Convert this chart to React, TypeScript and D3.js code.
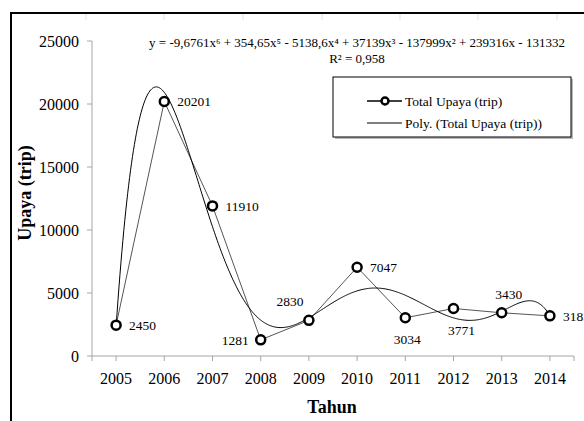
import React from "react";
import * as d3 from "d3";

const years = ["2005","2006","2007","2008","2009","2010","2011","2012","2013","2014"];
const upaya = [2450, 20201, 11910, 1281, 2830, 7047, 3034, 3771, 3430, 3185];
const labelPos = ["right","right","right","left","above","right","below","below","above","right"];
const yTicks = [0, 5000, 10000, 15000, 20000, 25000];
const equation = "y = -9,6761x⁶ + 354,65x⁵ - 5138,6x⁴ + 37139x³ - 137999x² + 239316x - 131332";
const rSquared = "R² = 0,958";
const legendLabels = ["Total Upaya (trip)", "Poly. (Total Upaya (trip))"];

// least squares polynomial fit (degree 6), on scaled x
function polyFit(xs: number[], ys: number[], deg: number) {
  const c = 5.5, s = 4.5;
  const n = deg + 1;
  const A: number[][] = Array.from({ length: n }, () => new Array(n + 1).fill(0));
  xs.forEach((x0, k) => {
    const t = (x0 - c) / s;
    const p: number[] = [];
    for (let i = 0; i < n; i++) p.push(Math.pow(t, i));
    for (let i = 0; i < n; i++) {
      for (let j = 0; j < n; j++) A[i][j] += p[i] * p[j];
      A[i][n] += p[i] * ys[k];
    }
  });
  for (let i = 0; i < n; i++) {
    let m = i;
    for (let r = i + 1; r < n; r++) if (Math.abs(A[r][i]) > Math.abs(A[m][i])) m = r;
    [A[i], A[m]] = [A[m], A[i]];
    for (let r = 0; r < n; r++) {
      if (r === i) continue;
      const f = A[r][i] / A[i][i];
      for (let k = i; k <= n; k++) A[r][k] -= f * A[i][k];
    }
  }
  const coef = A.map((row, i) => row[n] / row[i]);
  return (x0: number) => {
    const t = (x0 - c) / s;
    let v = 0;
    for (let i = n - 1; i >= 0; i--) v = v * t + coef[i];
    return v;
  };
}

export default function App() {
  const W = 584, H = 421;
  const x = d3.scalePoint<string>().domain(years).range([92, 574]).padding(0.5);
  const y = d3.scaleLinear().domain([0, 25000]).range([356, 41]);
  const idx = years.map((_, i) => i + 1);
  const f = polyFit(idx, upaya, 6);
  const step = x.step();
  const xi = (v: number) => (x(years[0]) as number) + (v - 1) * step;
  const trendPts = d3.range(1, 10.0001, 0.02).map((v) => [xi(v), y(f(v))] as [number, number]);
  const line = d3.line();
  const dataPts = upaya.map((v, i) => [x(years[i]) as number, y(v)] as [number, number]);
  const serif = "'Liberation Serif', 'Times New Roman', serif";
  const gridTicks = [86, 164, 243, 322, 400, 478, 557];

  return (
    <svg width={W} height={H} style={{ position: "absolute", left: 0, top: 0, background: "#fff" }} fontFamily={serif}>
      {/* frame */}
      {gridTicks.map((gx) => (
        <line key={gx} x1={gx} x2={gx} y1={14} y2={20} stroke="#e0e0e0" strokeWidth={1} />
      ))}
      <line x1={11} x2={584} y1={13} y2={13} stroke="#000" strokeWidth={2} />
      <line x1={11} x2={11} y1={12} y2={421} stroke="#000" strokeWidth={2} />

      {/* y axis */}
      <line x1={92} x2={92} y1={y(25000)} y2={356} stroke="#a6a6a6" strokeWidth={1} />
      {yTicks.map((t) => (
        <g key={t}>
          <line x1={87} x2={92} y1={y(t)} y2={y(t)} stroke="#a6a6a6" />
          <text x={79} y={y(t)} dy="0.35em" textAnchor="end" fontSize={16}>{t}</text>
        </g>
      ))}
      {/* x axis */}
      <line x1={92} x2={574} y1={356} y2={356} stroke="#a6a6a6" strokeWidth={1} />
      {[92, ...years.map((yr) => x(yr) as number), 574].map((tx, i) => (
        <line key={i} x1={tx} x2={tx} y1={356} y2={361} stroke="#a6a6a6" />
      ))}
      {years.map((yr) => (
        <text key={yr} x={x(yr)} y={378} dy="0.35em" textAnchor="middle" fontSize={16}>{yr}</text>
      ))}
      <text x={332} y={407} dy="0.35em" textAnchor="middle" fontSize={18} fontWeight="bold">Tahun</text>
      <text transform="translate(25,193) rotate(-90)" dy="0.35em" textAnchor="middle" fontSize={18} fontWeight="bold">Upaya (trip)</text>

      {/* data line */}
      <path d={line(dataPts) || ""} fill="none" stroke="#555" strokeWidth={1} />
      {/* trend */}
      <path d={line(trendPts) || ""} fill="none" stroke="#000" strokeWidth={1} />
      {dataPts.map(([px, py], i) => (
        <circle key={i} cx={px} cy={py} r={4.5} fill="#fff" stroke="#000" strokeWidth={2.5} />
      ))}
      {dataPts.map(([px, py], i) => {
        const p = labelPos[i];
        let tx = px + 13, ty = py, anchor = "start";
        if (p === "left") { tx = px - 12; anchor = "end"; }
        if (p === "above") { tx = px + (i === 4 ? 29 - 30 + 0 : 7); ty = py - 19; anchor = "middle"; }
        if (p === "below") { tx = px + (i === 6 ? 2 : 8); ty = py + 22; anchor = "middle"; }
        if (i === 4) { tx = px + 29 - 0; tx = px + 29; tx = 290; }
        return (
          <text key={i} x={tx} y={ty} dy="0.35em" textAnchor={anchor} fontSize={13.5}>{upaya[i]}</text>
        );
      })}

      {/* equation */}
      <text x={357} y={42} dy="0.35em" textAnchor="middle" fontSize={13}>{equation}</text>
      <text x={357} y={58} dy="0.35em" textAnchor="middle" fontSize={13}>{rSquared}</text>

      {/* legend */}
      <rect x={335} y={79} width={238} height={60} fill="#bbb" />
      <rect x={333} y={77} width={238} height={60} fill="#fff" stroke="#000" strokeWidth={1} />
      <line x1={367} x2={402} y1={101} y2={101} stroke="#000" strokeWidth={1.5} />
      <circle cx={385} cy={101} r={3.5} fill="#fff" stroke="#000" strokeWidth={2.5} />
      <text x={405} y={101} dy="0.35em" fontSize={13.5}>{legendLabels[0]}</text>
      <line x1={367} x2={402} y1={123} y2={123} stroke="#000" strokeWidth={1} />
      <text x={405} y={123} dy="0.35em" fontSize={13.5}>{legendLabels[1]}</text>
    </svg>
  );
}
